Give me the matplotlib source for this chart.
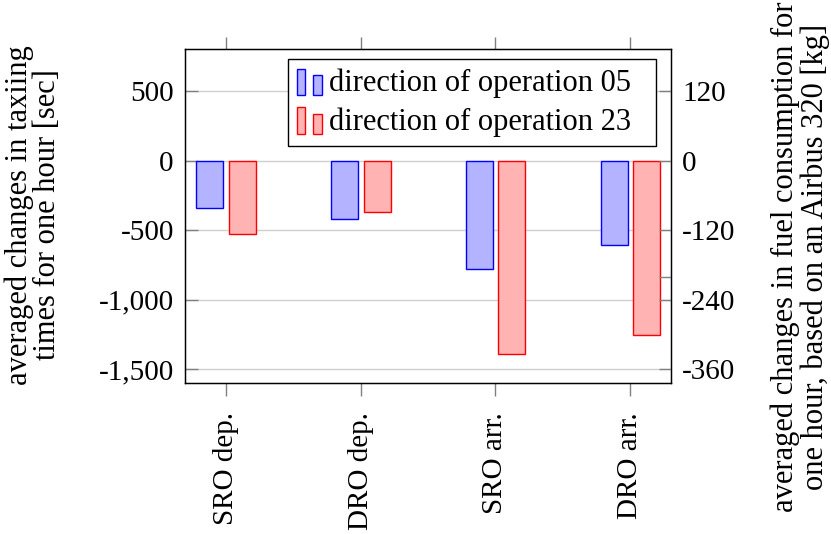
import matplotlib
matplotlib.use("Agg")
import matplotlib.pyplot as plt
from matplotlib.patches import Rectangle
from matplotlib.legend_handler import HandlerBase
import numpy as np

plt.rcParams['font.family'] = ['Liberation Serif', 'DejaVu Serif']
plt.rcParams['axes.unicode_minus'] = False
plt.rcParams['font.size'] = 21

# averaged taxi time changes per hour [sec]
categories = ['SRO dep.', 'DRO dep.', 'SRO arr.', 'DRO arr.']
dir05 = [-343, -422, -779, -609]
dir23 = [-530, -367, -1392, -1255]
series_names = ['direction of operation 05', 'direction of operation 23']

left_ticks = [500, 0, -500, -1000, -1500]
right_ticks = [120, 0, -120, -200, -240, -360]
right_labels = ['120', '0', '-120', '', '-240', '-360']
sec_per_kg = 500 / 120


class TwoBarHandler(HandlerBase):
    # small two-bar glyph like pgfplots ybar legend
    def create_artists(self, legend, orig_handle, xdescent, ydescent,
                       width, height, fontsize, trans):
        fc = orig_handle.get_facecolor()
        ec = orig_handle.get_edgecolor()
        w = width * 0.34
        y0 = -ydescent - 0.2 * height
        r1 = Rectangle((-xdescent, y0), w, height * 1.25,
                       facecolor=fc, edgecolor=ec, lw=1, transform=trans)
        r2 = Rectangle((-xdescent + width * 0.66, y0), w, height * 0.95,
                       facecolor=fc, edgecolor=ec, lw=1, transform=trans)
        return [r1, r2]


fig = plt.figure(figsize=(8.31, 5.34), dpi=100)
ax = fig.add_axes([0.2226, 0.2822, 0.5849, 0.6255])

x = np.arange(len(categories))
bw = 0.2
b1 = ax.bar(x - 0.118, dir05, bw, color='#b3b3ff', edgecolor='blue', lw=1,
            label=series_names[0], zorder=3)
b2 = ax.bar(x + 0.122, dir23, bw, color='#ffb3b3', edgecolor='red', lw=1,
            label=series_names[1], zorder=3)

ax.set_xlim(-0.302, 3.302)
ax.set_ylim(-1600, 800)
ax.set_yticks(left_ticks)
ax.set_yticklabels([f"{v:,}" for v in left_ticks])
ax.yaxis.grid(True, color='#d0d0d0', lw=1, zorder=0)
ax.set_axisbelow(True)

ax.set_xticks(x)
ax.set_xticklabels(categories, rotation=90, va='top', ha='center')
ax.tick_params(axis='x', direction='out', length=9, width=1, color='#808080',
               top=True, pad=12)
ax.tick_params(axis='y', direction='in', length=9, width=1, color='#808080',
               pad=8, right=False)
for s in ax.spines.values():
    s.set_linewidth(1)

ax2 = ax.twinx()
ax2.set_ylim(-1600 / sec_per_kg, 800 / sec_per_kg)
ax2.set_yticks(right_ticks)
ax2.set_yticklabels(right_labels)
ax2.tick_params(axis='y', direction='in', length=9, width=1, color='#808080', pad=8)

# axis titles
fig.text(33 / 831, 1 - 215 / 534, 'averaged changes in taxiing\ntimes for one hour [sec]',
         rotation=90, ha='center', va='center', linespacing=0.94, fontsize=22)
fig.text(800 / 831, 1 - 257 / 534,
         'averaged changes in fuel consumption for\none hour, based on an Airbus 320 [kg]',
         rotation=90, ha='center', va='center', linespacing=1.0, fontsize=22)

leg = ax2.legend([b1.patches[0], b2.patches[0]], [s + '  ' for s in series_names],
                 handler_map={Rectangle: TwoBarHandler()},
                 loc='upper right', bbox_to_anchor=(0.9685, 0.970),
                 borderaxespad=0, frameon=True, fancybox=False, edgecolor='black',
                 handlelength=0.8, handletextpad=0.25, labelspacing=0.3,
                 borderpad=0.3, framealpha=1, fontsize=22)
leg.get_frame().set_linewidth(1)

fig.savefig('out.png', dpi=100)
